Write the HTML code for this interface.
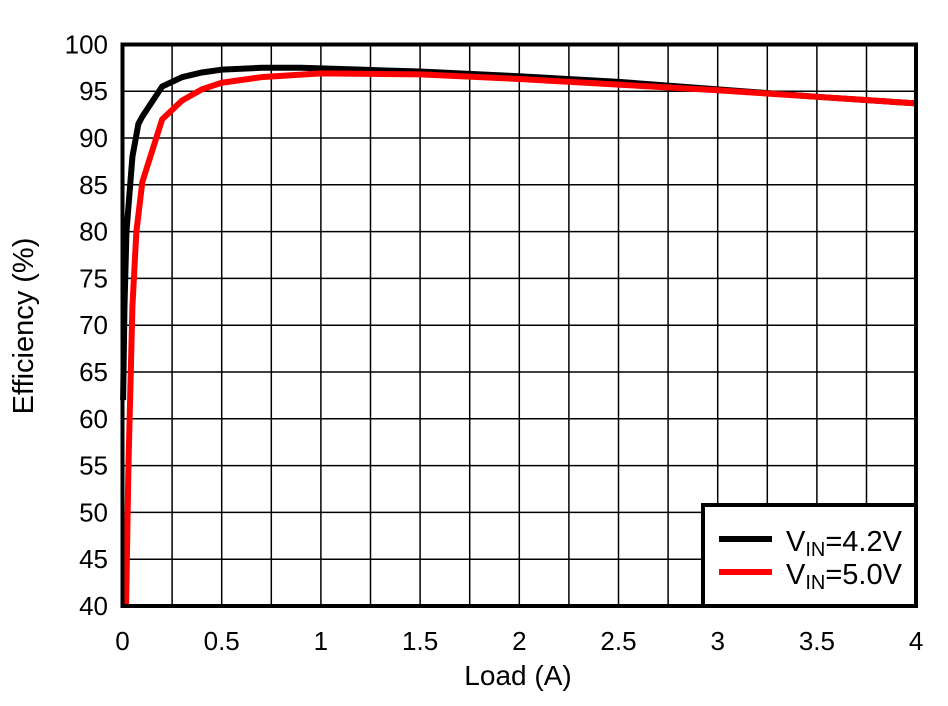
<!DOCTYPE html>
<html><head><style>
body{margin:0;background:#fff;}
text{font-family:"Liberation Sans",Arial,sans-serif;fill:#000;}
</style></head><body>
<svg width="948" height="701" viewBox="0 0 948 701" xmlns="http://www.w3.org/2000/svg">
<g stroke="#000" stroke-width="1.5" id="grid"></g>
<g id="lbl" style="font-size:26px"></g>
<polyline id="blk" fill="none" stroke="#000" stroke-width="6" stroke-linejoin="round"/>
<polyline id="red" fill="none" stroke="#f00" stroke-width="6" stroke-linejoin="round"/>
<rect x="122.5" y="44.5" width="793.5" height="561.5" fill="none" stroke="#000" stroke-width="4"/>
<rect x="703" y="505" width="213" height="101" fill="#fff" stroke="#000" stroke-width="4"/>
<line x1="719" y1="539" x2="772" y2="539" stroke="#000" stroke-width="6"/>
<line x1="719" y1="572" x2="772" y2="572" stroke="#f00" stroke-width="6"/>
<text x="786" y="551" style="font-size:29px">V<tspan style="font-size:20px" dy="5">IN</tspan><tspan dy="-5">=4.2V</tspan></text>
<text x="786" y="584" style="font-size:29px">V<tspan style="font-size:20px" dy="5">IN</tspan><tspan dy="-5">=5.0V</tspan></text>
<text x="518" y="685" style="font-size:28px" text-anchor="middle">Load (A)</text>
<text transform="translate(33,326) rotate(-90)" style="font-size:29px" text-anchor="middle">Efficiency (%)</text>
</svg>
<script>
var X=v=>122.5+v*198.4, Y=e=>606-(e-40)*9.36, ns="http://www.w3.org/2000/svg";
var g=document.getElementById('grid'),l=document.getElementById('lbl');
function mk(p,t,a){var e=document.createElementNS(ns,t);for(var k in a)e.setAttribute(k,a[k]);p.appendChild(e);return e;}
for(var i=1;i<16;i++)mk(g,'line',{x1:X(i/4),x2:X(i/4),y1:44,y2:606});
for(var j=1;j<12;j++)mk(g,'line',{x1:122,x2:916,y1:Y(40+5*j),y2:Y(40+5*j)});
for(var i=0;i<=8;i++){var t=mk(l,'text',{x:X(i/2),y:650,'text-anchor':'middle'});t.textContent=String(i/2);}
for(var j=0;j<=12;j++){var t=mk(l,'text',{x:108,y:Y(40+5*j)+9,'text-anchor':'end'});t.textContent=String(40+5*j);}
function pl(id,d){document.getElementById(id).setAttribute('points',d.map(p=>X(p[0])+','+Y(p[1])).join(' '));}
pl('blk',[[0.003,62],[0.01,72],[0.02,80],[0.05,88],[0.08,91.5],[0.1,92.3],[0.2,95.5],[0.3,96.5],[0.4,97.0],[0.5,97.3],[0.7,97.5],[0.9,97.5],[1.2,97.3],[1.5,97.1],[2,96.6],[2.5,96],[3,95.2],[3.5,94.4],[4,93.7]]);
pl('red',[[0.018,40],[0.03,55],[0.05,72],[0.07,80],[0.1,85.3],[0.2,92],[0.3,94],[0.4,95.2],[0.5,95.9],[0.7,96.5],[1,96.9],[1.5,96.8],[2,96.3],[2.5,95.7],[3,95.1],[3.5,94.4],[4,93.7]]);
</script>
</body></html>
